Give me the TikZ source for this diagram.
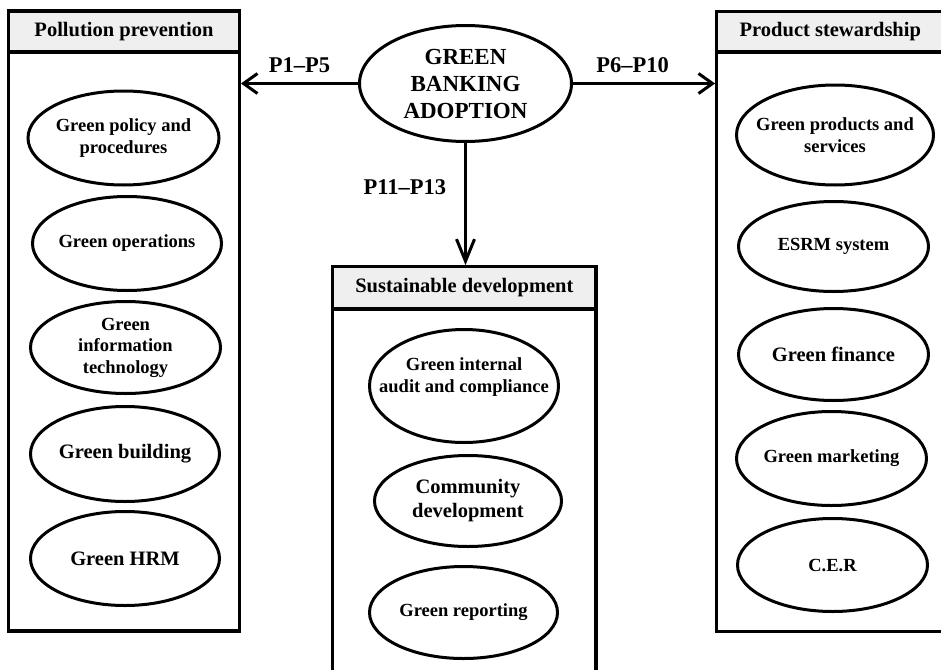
\documentclass[tikz,border=0pt]{standalone}
\usepackage{fontspec}
\setmainfont{Liberation Serif}
\usetikzlibrary{shapes.geometric,arrows.meta}
\definecolor{hdrgray}{HTML}{EFEFEF}
\tikzset{
  panel/.style={draw,line width=3.2pt,inner sep=0pt},
  hdr/.style={panel,fill=hdrgray,font=\fontsize{20.5}{24}\selectfont\bfseries},
  oval/.style={ellipse,draw,line width=3pt,inner xsep=-30pt,inner ysep=-5pt,align=center,
    minimum width=190pt,minimum height=94pt,font=\fontsize{18.5}{21.5}\selectfont\bfseries},
  bigtxt/.style={font=\fontsize{20.5}{24}\selectfont\bfseries},
  lbl/.style={inner sep=2pt,font=\fontsize{22.5}{27}\selectfont\bfseries}
}
\begin{document}
\begin{tikzpicture}[x=1pt,y=-1pt,>={Straight Barb[length=14pt,width=20pt]},line width=3pt]
\useasboundingbox (0,0) rectangle (941,669);
\clip (0,0) rectangle (941,669);
\coordinate (A) at (465.5,83.5);
\coordinate (LP) at (124,321);
\coordinate (LH) at (124,31.5);
\coordinate (RP) at (830.35,321.6);
\coordinate (RH) at (830.35,31.85);
\coordinate (CP) at (464.35,483.35);
\coordinate (CH) at (464.35,287.85);
\coordinate (L1) at (123.5,138);
\coordinate (L2) at (127,243.5);
\coordinate (L3) at (125.5,347.5);
\coordinate (L4) at (125,454);
\coordinate (L5) at (125,558.5);
\coordinate (R1) at (835,135);
\coordinate (R2) at (833.5,246.5);
\coordinate (R3) at (833.5,354.5);
\coordinate (R4) at (831.5,458.5);
\coordinate (R5) at (832.5,565);
\coordinate (C1) at (464,386);
\coordinate (C2) at (468,501);
\coordinate (C3) at (463.5,612.5);
% the three panels
\node[panel,minimum width=230.6pt,minimum height=620pt] (lpanel) at (LP) {};
\node[hdr,minimum width=230.6pt,minimum height=41pt] (lhdr) at (LH) {Pollution prevention};
\node[panel,minimum width=227.3pt,minimum height=619.8pt] (rpanel) at (RP) {};
\node[hdr,minimum width=227.3pt,minimum height=40.3pt] (rhdr) at (RH) {Product stewardship};
\node[panel,minimum width=263.3pt,minimum height=433.3pt] (cpanel) at (CP) {};
\node[hdr,minimum width=263.3pt,minimum height=42.3pt] (chdr) at (CH) {Sustainable development};
% centre
\node[ellipse,draw,inner sep=0pt,align=center,minimum width=212pt,minimum height=116pt,
  font=\fontsize{23}{27}\selectfont\bfseries] (adopt) at (A) {GREEN\\BANKING\\ADOPTION};
\draw[->] (adopt.west) -- (adopt.west -| lpanel.east)
  node[lbl,midway,above=7pt] (p1) {P1--P5};
\draw[->] (adopt.east) -- (adopt.east -| rpanel.west)
  node[lbl,pos=0.42,above=7pt] (p6) {P6--P10};
\draw[-{Straight Barb[length=22pt,width=18pt]}] (adopt.south) -- (adopt.south |- chdr.north)
  node[lbl,pos=0.36,left=16pt] (p11) {P11--P13};
% pollution prevention
\node[oval,minimum width=191pt] (policy) at (L1) {Green policy and\\procedures};
\node[oval,minimum width=189pt] (ops) at (L2) {Green operations};
\node[oval,minimum height=92pt] (git) at (L3) {Green\\information\\technology};
\node[oval,bigtxt,minimum width=189pt,minimum height=95pt] (build) at (L4) {Green building};
\node[oval,bigtxt,minimum width=189pt] (hrm) at (L5) {Green HRM};
% product stewardship
\node[oval,minimum width=197pt,minimum height=100pt] (prod) at (R1) {Green products and\\services};
\node[oval,minimum height=90pt] (esrm) at (R2) {ESRM system};
\node[oval,bigtxt,minimum height=92pt] (fin) at (R3) {Green finance};
\node[oval] (mkt) at (R4) {Green marketing};
\node[oval,minimum height=93pt] (cer) at (R5) {C.E.R};
% sustainable development
\node[oval,minimum width=189pt,minimum height=113pt] (audit) at (C1) {Green internal\\audit and compliance\\\mbox{}};
\node[oval,bigtxt,minimum width=187pt,minimum height=91pt] (comm) at (C2) {Community\\development};
\node[oval,minimum width=188pt,minimum height=92pt] (rep) at (C3) {Green reporting};
\end{tikzpicture}
\end{document}
